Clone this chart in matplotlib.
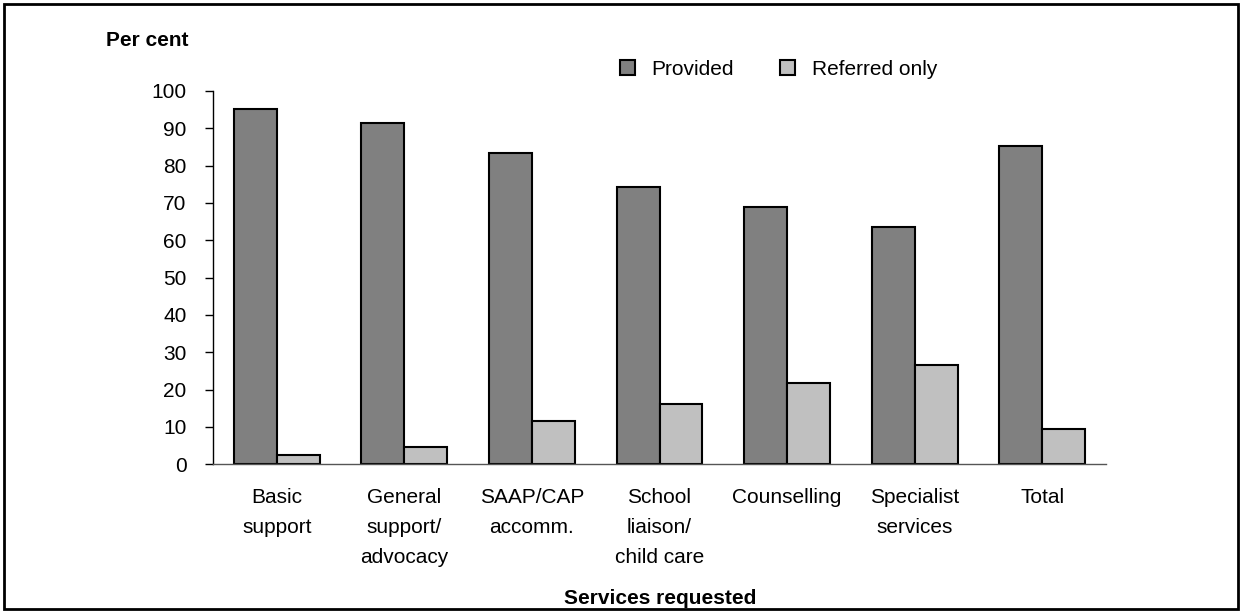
import matplotlib
matplotlib.use("Agg")
import matplotlib.pyplot as plt
from matplotlib.patches import Rectangle, Patch
import numpy as np

plt.rcParams["font.family"] = ["Liberation Sans", "DejaVu Sans"]

categories = [
    "Basic\nsupport",
    "General\nsupport/\nadvocacy",
    "SAAP/CAP\naccomm.",
    "School\nliaison/\nchild care",
    "Counselling",
    "Specialist\nservices",
    "Total",
]
provided = [95.1, 91.3, 83.5, 74.3, 68.9, 63.6, 85.4]
referred = [2.6, 4.7, 11.7, 16.1, 21.8, 26.6, 9.5]
yticks = [0, 10, 20, 30, 40, 50, 60, 70, 80, 90, 100]

W, H = 1241, 612
fig = plt.figure(figsize=(W / 100, H / 100), dpi=100)
ax = fig.add_axes([213 / W, 1 - 464.3 / H, (1106 - 213) / W, (464.3 - 91) / H])

x = np.arange(len(categories))
w = 0.337
ax.bar(x - w / 2, provided, w, color="#808080", edgecolor="black", linewidth=1.5, label="Provided")
ax.bar(x + w / 2, referred, w, color="#C0C0C0", edgecolor="black", linewidth=1.5, label="Referred only")

ax.set_xlim(-0.5, len(categories) - 0.5)
ax.set_ylim(0, 100)
ax.set_yticks(yticks)
ax.set_xticks(x)
ax.set_xticklabels(categories, fontsize=15, linespacing=1.72, va="top")
ax.tick_params(axis="x", length=0, pad=17)
ax.tick_params(axis="y", length=6, width=1, labelsize=15, pad=13)

for s in ["top", "right"]:
    ax.spines[s].set_visible(False)
ax.spines["left"].set_linewidth(1)
ax.spines["bottom"].set_linewidth(1)
ax.spines["bottom"].set_color("#555555")

fig.text(106 / W, 1 - 40 / H, "Per cent", fontsize=15, fontweight="bold", ha="left", va="center")
fig.text(660 / W, 1 - 598 / H, "Services requested", fontsize=15, fontweight="bold", ha="center", va="center")

handles = [
    Patch(facecolor="#808080", edgecolor="black", linewidth=1.5),
    Patch(facecolor="#C0C0C0", edgecolor="black", linewidth=1.5),
]
fig.legend(
    handles,
    ["Provided", "Referred only"],
    loc="center left",
    bbox_to_anchor=(620 / W, 1 - 69.5 / H),
    ncol=2,
    frameon=False,
    fontsize=15,
    handlelength=0.72,
    handleheight=0.72,
    handletextpad=0.8,
    columnspacing=2.2,
    borderpad=0,
    borderaxespad=0,
)

# outer frame
fig.patches.append(
    Rectangle((4 / W, 1 - 609 / H), (1238 - 4) / W, (609 - 4) / H,
              transform=fig.transFigure, fill=False, edgecolor="black", linewidth=2)
)

fig.savefig("out.png", dpi=100)
